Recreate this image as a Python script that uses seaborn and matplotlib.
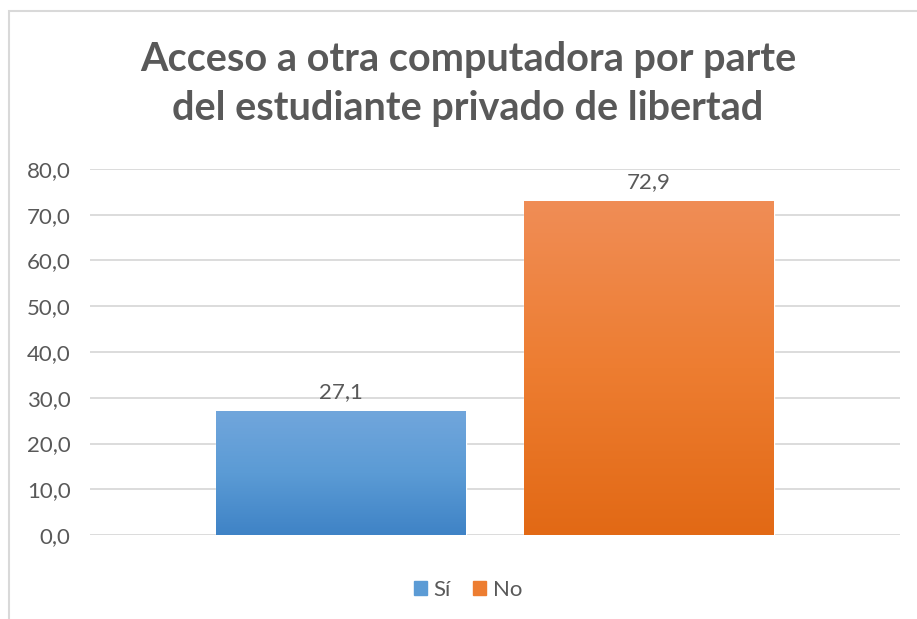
import matplotlib
matplotlib.use("Agg")
import matplotlib.pyplot as plt
import matplotlib.colors as mcolors
from matplotlib.patches import Rectangle
import numpy as np
import pandas as pd
import seaborn as sns

title = "Acceso a otra computadora por parte\ndel estudiante privado de libertad"
categories = ["Sí", "No"]
values = [27.1, 72.9]
yticks = [0, 10, 20, 30, 40, 50, 60, 70, 80]

# top / bottom colours of the gradient fill
grad_top = {"Sí": "#71a6dc", "No": "#f08d56"}
grad_bottom = {"Sí": "#3f83c6", "No": "#e26915"}
flat = {"Sí": "#5b9bd5", "No": "#ed7d31"}

TEXT = "#595959"
GRID = "#d9d9d9"


def main():
    sns.set_style("white")
    plt.rcParams["font.family"] = ["Lato", "DejaVu Sans"]

    W, H = 917, 619
    fig = plt.figure(figsize=(W / 100, H / 100), dpi=100)
    ax = fig.add_axes([90 / W, (H - 535) / H, 810 / W, 366 / H])

    df = pd.DataFrame({"cat": categories, "val": values})
    sns.barplot(data=df, x="cat", y="val", hue="cat", palette=flat,
                width=0.81, dodge=False, legend=False, ax=ax, zorder=3)

    ax.set_yticks(yticks)
    ax.set_yticklabels([f"{t:.1f}".replace(".", ",") for t in yticks],
                       color=TEXT, fontsize=16)
    ax.tick_params(axis="y", length=0, pad=14)
    ax.set_xticks([])
    ax.set_xlabel("")
    ax.set_ylabel("")
    for s in ax.spines.values():
        s.set_visible(False)
    ax.grid(axis="y", color=GRID, linewidth=1.3, zorder=0)
    ax.set_axisbelow(True)

    # gradient fill on each bar
    for patch, cat, v in zip(ax.patches, categories, values):
        x0, y0 = patch.get_x(), patch.get_y()
        w, h = patch.get_width(), patch.get_height()
        cmap = mcolors.LinearSegmentedColormap.from_list(
            "g", [grad_bottom[cat], flat[cat], grad_top[cat]])
        grad = np.linspace(0, 1, 256).reshape(-1, 1)
        im = ax.imshow(grad, extent=[x0, x0 + w, y0, y0 + h], origin="lower",
                       cmap=cmap, aspect="auto", zorder=4)
        im.set_clip_path(patch)
        ax.text(x0 + w / 2, v + 2.0, f"{v:.1f}".replace(".", ","),
                ha="center", va="bottom", color=TEXT, fontsize=16, zorder=5)
    ax.set_xlim(-0.815, 1.815)
    ax.set_ylim(0, 80)

    fig.text(468 / W, 1 - 84 / H, title, ha="center", va="center",
             fontsize=28.5, fontweight="bold", color=TEXT, linespacing=1.38)

    # legend
    handles = [Rectangle((0, 0), 1, 1, color=flat[c]) for c in categories]
    fig.legend(handles, categories, loc="center",
               bbox_to_anchor=(468 / W, 1 - 590 / H),
               ncol=2, frameon=False, fontsize=16, labelcolor=TEXT,
               handlelength=0.6, handleheight=0.6, handletextpad=0.3,
               columnspacing=1.0)

    # chart frame
    fig.patches.append(Rectangle((9 / W, -0.1), 1.2, 1 - 11 / H + 0.1,
                                 transform=fig.transFigure, fill=False,
                                 edgecolor=GRID, linewidth=1.5))

    fig.savefig("out.png", dpi=100)


if __name__ == "__main__":
    main()
